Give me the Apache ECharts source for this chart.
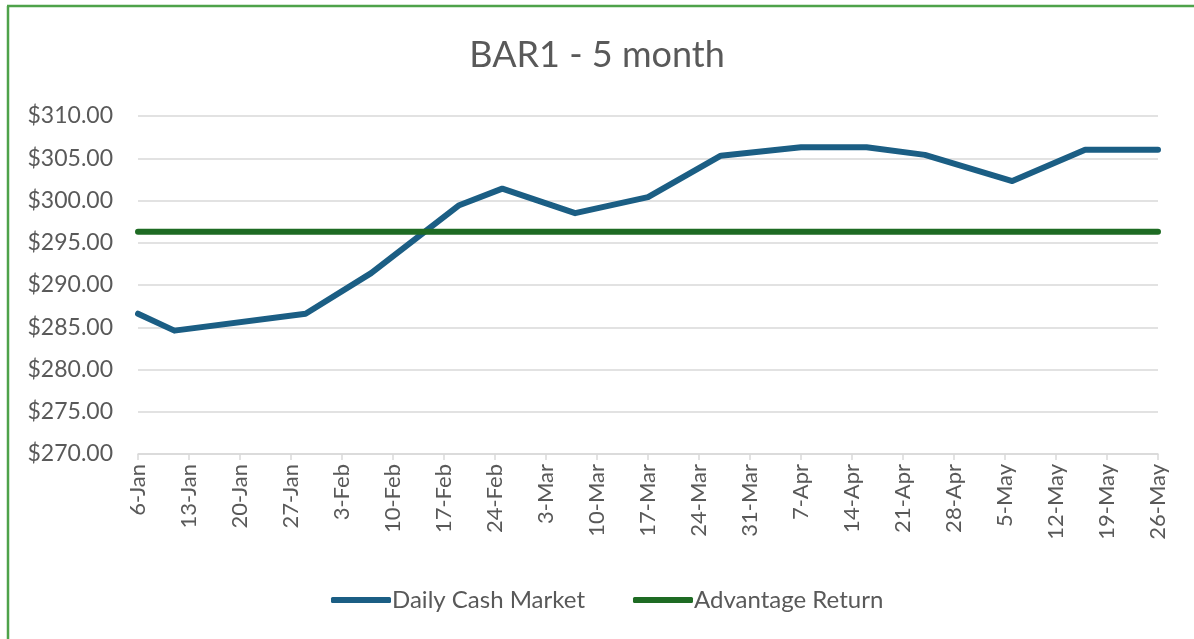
<!DOCTYPE html>
<html>
<head>
<meta charset="utf-8">
<script src="https://cdn.jsdelivr.net/npm/echarts@6/dist/echarts.min.js"></script>
<style>
  html, body { margin: 0; padding: 0; background: #fff; }
  #main { width: 1194px; height: 639px; }
</style>
</head>
<body>
<div id="main"></div>
<script>
// tick labels on the date axis (weekly, from 6-Jan)
var xLabels = ['6-Jan','13-Jan','20-Jan','27-Jan','3-Feb','10-Feb','17-Feb','24-Feb','3-Mar','10-Mar',
  '17-Mar','24-Mar','31-Mar','7-Apr','14-Apr','21-Apr','28-Apr','5-May','12-May','19-May','26-May'];
var startDate = '2025-01-06';
var endDate = '2025-05-26';

// Daily Cash Market
var cashDates = ['2025-01-06','2025-01-11','2025-01-29','2025-02-07','2025-02-19','2025-02-25','2025-03-07',
  '2025-03-17','2025-03-27','2025-04-07','2025-04-16','2025-04-24','2025-05-06','2025-05-16','2025-05-26'];
var cashValues = [286.6, 284.6, 286.6, 291.4, 299.4, 301.4, 298.5, 300.4, 305.3, 306.3, 306.3, 305.4, 302.3, 306.0, 306.0];

// Advantage Return (flat)
var advDates = ['2025-01-06','2025-05-26'];
var advValues = [296.3, 296.3];

var DAY = 86400000;
function dayNum(d) {
  return (new Date(d).getTime() - new Date(startDate).getTime()) / DAY;
}
function pairs(dates, vals) {
  var out = [];
  for (var i = 0; i < dates.length; i++) out.push([dayNum(dates[i]), vals[i]]);
  return out;
}

var font = 'Lato, "Liberation Sans", sans-serif';
var grey = '#595959';

var chart = echarts.init(document.getElementById('main'));
var option = {
  animation: false,
  title: {
    text: 'BAR1 - 5 month',
    left: 'center',
    top: 32,
    textStyle: { fontFamily: font, fontSize: 36, fontWeight: 'normal', color: grey }
  },
  legend: {
    top: 583,
    left: 326,
    itemWidth: 60,
    itemHeight: 6,
    itemGap: 48,
    icon: 'roundRect',
    textStyle: { fontFamily: font, fontSize: 24, color: grey, padding: [0, 0, 0, -4] },
    data: ['Daily Cash Market', 'Advantage Return']
  },
  grid: { left: 138, right: 36, top: 116, bottom: 185 },
  xAxis: {
    type: 'value',
    min: 0,
    max: dayNum(endDate),
    interval: 7,
    axisLine: { show: true, lineStyle: { color: '#d9d9d9', width: 1.5 } },
    axisTick: { show: true, length: 6, lineStyle: { color: '#d9d9d9', width: 1.5 } },
    splitLine: { show: false },
    axisLabel: {
      rotate: 90,
      margin: 10,
      fontFamily: font,
      fontSize: 22,
      color: grey,
      formatter: function (v) { return xLabels[Math.round(v / 7)] || ''; }
    }
  },
  yAxis: {
    type: 'value',
    min: 270,
    max: 310,
    interval: 5,
    axisLine: { show: false },
    axisTick: { show: false },
    splitLine: { lineStyle: { color: '#d9d9d9', width: 1.5 } },
    axisLabel: {
      margin: 25,
      fontFamily: font,
      fontSize: 23,
      color: grey,
      formatter: function (v) { return '$' + v.toFixed(2); }
    }
  },
  graphic: [
    { type: 'line', shape: { x1: 8, y1: 6, x2: 8, y2: 639 }, style: { stroke: '#4ea24a', lineWidth: 2.5 } },
    { type: 'line', shape: { x1: 7, y1: 6, x2: 1194, y2: 6 }, style: { stroke: '#4ea24a', lineWidth: 2.5 } }
  ],
  series: [
    {
      name: 'Daily Cash Market',
      type: 'line',
      data: pairs(cashDates, cashValues),
      symbol: 'none',
      color: '#1b5e84',
      lineStyle: { width: 6, cap: 'round', join: 'round' }
    },
    {
      name: 'Advantage Return',
      type: 'line',
      data: pairs(advDates, advValues),
      symbol: 'none',
      color: '#1e6b23',
      lineStyle: { width: 6, cap: 'round' }
    }
  ]
};
chart.setOption(option);
</script>
</body>
</html>
